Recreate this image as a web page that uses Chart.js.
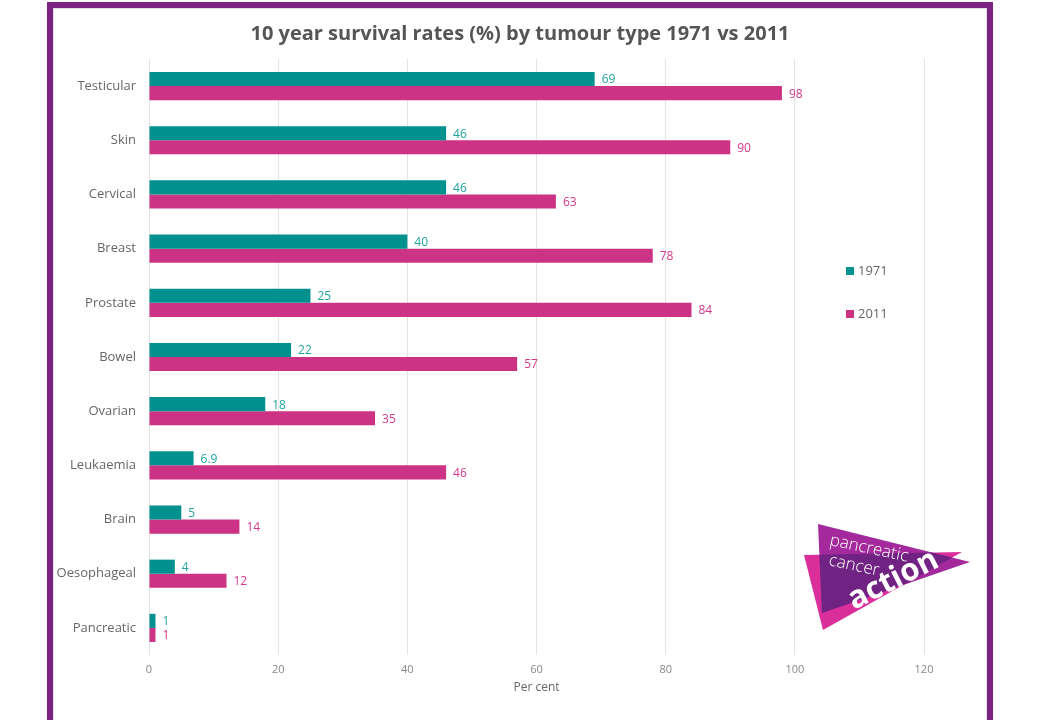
<!DOCTYPE html>
<html>
<head>
<meta charset="utf-8">
<script src="https://cdn.jsdelivr.net/npm/chart.js@4/dist/chart.umd.min.js"></script>
<style>
  body { margin: 0; background: #fff; font-family: 'Open Sans', sans-serif; }
  #wrap { position: relative; width: 1040px; height: 720px; overflow: hidden; }
  #frame { position: absolute; left: 47px; top: 2px; width: 946px; height: 730px; box-sizing: border-box; border: 6px solid #7b2382; }
  #frame::after { content: ''; position: absolute; left: 0; top: 0; right: 0; bottom: 0; border: 1px solid #ddd; }
  canvas { position: absolute; left: 0; top: 0; }
  #legend { position: absolute; left: 846px; top: 259px; font-size: 13px; color: #666; }
  #legend div { height: 43px; line-height: 22px; }
  #legend span.box { display: inline-block; width: 8px; height: 8px; margin-right: 4px; vertical-align: 0px; }
  #logo { position: absolute; left: 0; top: 0; }
</style>
</head>
<body>
<div id="wrap">
  <div id="frame"></div>
  <canvas id="chart" width="1040" height="720"></canvas>
  <div id="legend"></div>
  <svg id="logo" width="1040" height="720">
    <defs>
      <clipPath id="pinkClip"><polygon points="804,555 962,552 823,630"/></clipPath>
    </defs>
    <polygon points="804,555 962,552 823,630" fill="#da2f9b"/>
    <polygon points="818,524 970,562 822,613" fill="#a3299d"/>
    <polygon points="818,524 970,562 822,613" fill="#712383" clip-path="url(#pinkClip)"/>
    <text x="829" y="545" transform="rotate(12 829 545)" fill="#fff" font-family="Open Sans" font-size="17" font-weight="300">pancreatic</text>
    <text x="828" y="565" transform="rotate(12 828 565)" fill="#fff" font-family="Open Sans" font-size="17" font-weight="300">cancer</text>
    <text x="854" y="610" transform="rotate(-27 854 610)" fill="#fff" font-family="Open Sans" font-size="31" font-weight="bold">action</text>
  </svg>
</div>
<script>
const categories = ['Testicular', 'Skin', 'Cervical', 'Breast', 'Prostate', 'Bowel', 'Ovarian', 'Leukaemia', 'Brain', 'Oesophageal', 'Pancreatic'];
const rates1971 = [69, 46, 46, 40, 25, 22, 18, 6.9, 5, 4, 1];
const rates2011 = [98, 90, 63, 78, 84, 57, 35, 46, 14, 12, 1];
const xTicks = [0, 20, 40, 60, 80, 100, 120];

const teal = '#00918e';
const pink = '#cc3385';

// value labels just right of each bar
const barLabels = {
  id: 'barLabels',
  afterDatasetsDraw(chart) {
    const ctx = chart.ctx;
    ctx.save();
    ctx.font = '12px "Open Sans"';
    ctx.textBaseline = 'middle';
    ctx.textAlign = 'left';
    chart.data.datasets.forEach((ds, i) => {
      const meta = chart.getDatasetMeta(i);
      ctx.fillStyle = ds.labelColor;
      meta.data.forEach((bar, j) => {
        ctx.fillText(String(ds.data[j]), bar.x + 7, bar.y + 1);
      });
    });
    ctx.restore();
  }
};

const chart = new Chart(document.getElementById('chart'), {
  type: 'bar',
  data: {
    labels: categories,
    datasets: [
      { label: '1971', data: rates1971, backgroundColor: teal, labelColor: '#1fa3a0' },
      { label: '2011', data: rates2011, backgroundColor: pink, labelColor: '#d4388c' },
    ],
  },
  options: {
    indexAxis: 'y',
    responsive: false,
    animation: false,
    layout: { padding: 0 },
    datasets: { bar: { categoryPercentage: 0.52, barPercentage: 1 } },
    scales: {
      x: {
        min: 0,
        max: 120,
        afterBuildTicks: (s) => { s.ticks = xTicks.map(v => ({ value: v })); },
        afterFit: (s) => { s.height = 65; },
        grid: { color: '#e3e3e3', drawTicks: false },
        border: { display: false },
        ticks: { color: '#888', font: { family: 'Open Sans', size: 11 }, padding: 8 },
        title: { display: true, text: 'Per cent', color: '#666', font: { family: 'Open Sans', size: 12 }, padding: { bottom: 25 } },
      },
      y: {
        afterFit: (s) => { s.width = 149; },
        grid: { display: false, drawTicks: false },
        border: { display: false },
        ticks: { color: '#666', font: { family: 'Open Sans', size: 13 }, padding: 13 },
      },
      // empty right-hand gutter so the plot stops at 120 and the title stays centred on the page
      gutter: {
        type: 'category',
        position: 'right',
        axis: 'y',
        afterFit: (s) => { s.width = 116; },
        grid: { display: false, drawTicks: false },
        border: { display: false },
        ticks: { display: false },
      },
    },
    plugins: {
      legend: { display: false },
      tooltip: { enabled: false },
      title: {
        display: true,
        text: '10 year survival rates (%) by tumour type 1971 vs 2011',
        color: '#555',
        font: { family: 'Open Sans', size: 20, weight: 'bold' },
        padding: { top: 22, bottom: 13 },
      },
    },
  },
  plugins: [barLabels],
});

// legend built from the datasets
const legend = document.getElementById('legend');
chart.data.datasets.forEach(ds => {
  const row = document.createElement('div');
  row.innerHTML = '<span class="box" style="background:' + ds.backgroundColor + '"></span>' + ds.label;
  legend.appendChild(row);
});
</script>
</body>
</html>
